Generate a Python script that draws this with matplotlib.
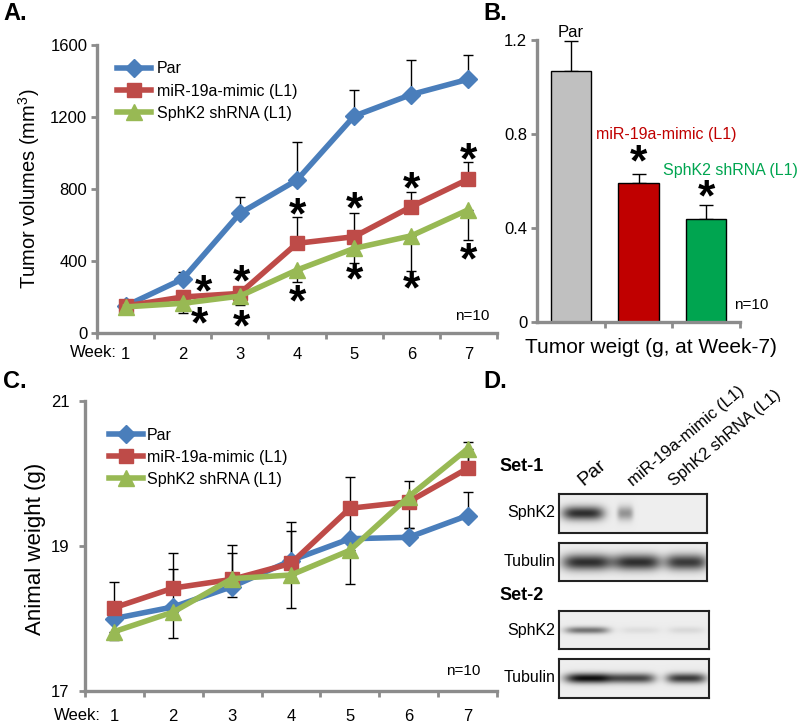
import numpy as np
import matplotlib
matplotlib.use('Agg')
import matplotlib.pyplot as plt
from matplotlib.transforms import offset_copy

plt.rcParams['font.family'] = ['Liberation Sans', 'DejaVu Sans']
plt.rcParams['mathtext.fontset'] = 'custom'
plt.rcParams['mathtext.rm'] = 'Liberation Sans'

# ---- data ----
weeks = [1, 2, 3, 4, 5, 6, 7]
series_names = ['Par', 'miR-19a-mimic (L1)', 'SphK2 shRNA (L1)']

# A: tumor volumes (mm3)
tv_par = [150, 300, 665, 850, 1205, 1325, 1410]
tv_mir = [150, 200, 220, 498, 535, 702, 855]
tv_sph = [145, 165, 205, 350, 470, 540, 685]
tv_par_err = [15, 40, 92, 213, 145, 190, 134]
tv_mir_err = [10, 30, 37, 148, 130, 83, 93]
tv_sph_err = [10, 55, 47, 65, 83, 194, 166]
tv_star_up_x = [2.36, 3.03, 4, 5, 6, 7]
tv_star_up_y = [267, 322, 693, 730, 840, 1000]
tv_star_dn_x = [2.29, 3.03, 4, 5, 6, 7]
tv_star_dn_y = [90, 72, 211, 333, 285, 444]
tv_yticks = [0, 400, 800, 1200, 1600]

# B: tumor weight (g) at week 7
tw_mean = [1.07, 0.59, 0.44]
tw_err = [0.125, 0.04, 0.06]
tw_star_x = [1, 2]
tw_star_y = [0.71, 0.56]
tw_yticks = [0, 0.4, 0.8, 1.2]
tw_yticklabels = ['0', '0.4', '0.8', '1.2']

# C: animal weight (g)
aw_par = [18.00, 18.16, 18.44, 18.80, 19.10, 19.12, 19.42]
aw_mir = [18.15, 18.42, 18.54, 18.76, 19.52, 19.61, 20.07]
aw_sph = [17.82, 18.09, 18.55, 18.60, 18.94, 19.68, 20.34]
aw_par_err = [0.15, 0.52, 0.47, 0.41, 0.35, 0.13, 0.32]
aw_mir_err = [0.36, 0.48, 0.48, 0.57, 0.43, 0.29, 0.37]
aw_sph_err = [0.12, 0.36, 0.25, 0.45, 0.47, 0.43, 0.30]
aw_yticks = [17, 19, 21]

# D: blot band intensities (0 = none, 1 = saturated), lanes Par / miR / SphK2
set1_sphk2 = [0.85, 0.40, 0.0]
set1_tubulin = [0.85, 0.85, 0.80]
set2_sphk2 = [0.55, 0.07, 0.09]
set2_tubulin = [1.0, 0.75, 0.80]

# ---- style ----
W, H = 798, 723
GRAY = '#8c8c8c'
C_PAR, C_MIR, C_SPH = '#4a7ebb', '#be4b48', '#98b954'
BAR_COLORS = ['#c0c0c0', '#c00000', '#00a550']

fig = plt.figure(figsize=(W / 100, H / 100), dpi=100)


def rect(x0, y0, x1, y1):
    return [x0 / W, 1 - y1 / H, (x1 - x0) / W, (y1 - y0) / H]


def ftext(x, y, s, **kw):
    fig.text(x / W, 1 - y / H, s, **kw)


def style(ax):
    ax.spines['top'].set_visible(False)
    ax.spines['right'].set_visible(False)
    for s in ['left', 'bottom']:
        ax.spines[s].set_color(GRAY)
        ax.spines[s].set_linewidth(2.4)
    ax.tick_params(axis='y', direction='out', length=4, width=2, color=GRAY, labelsize=12, pad=3)


def star(ax, x, y, fs=32):
    tr = offset_copy(ax.transData, fig=fig, y=-0.46 * fs, units='points')
    ax.text(x, y, '*', transform=tr, ha='center', va='baseline', fontsize=fs,
            fontweight='bold', zorder=5)


def week_axis(ax, pad):
    ax.set_xlim(0.5, 7.5)
    ax.set_xticks(weeks)
    ax.set_xticks(np.arange(0.5, 8, 1), minor=True)
    ax.tick_params(axis='x', which='major', length=0, labelsize=12, pad=pad)
    ax.tick_params(axis='x', which='minor', direction='out', length=4, width=2, color=GRAY)


def trend(ax, ys, errs, color, marker, ms, up, label):
    e = np.array(errs)
    z = np.zeros_like(e)
    yerr = [z, e] if up else [e, z]
    ax.errorbar(weeks, ys, yerr=yerr, fmt='none', ecolor='black', elinewidth=1,
                capsize=3.5, capthick=1, zorder=1)
    ax.plot(weeks, ys, color=color, lw=4, marker=marker, ms=ms, mec=color,
            mfc=color, label=label, zorder=2, clip_on=False)


# ---- A ----
axA = fig.add_axes(rect(97, 45, 497, 333))
style(axA)
trend(axA, tv_par, tv_par_err, C_PAR, 'D', 9, True, series_names[0])
trend(axA, tv_mir, tv_mir_err, C_MIR, 's', 10, True, series_names[1])
trend(axA, tv_sph, tv_sph_err, C_SPH, '^', 11, False, series_names[2])
for x, y in zip(tv_star_up_x, tv_star_up_y):
    star(axA, x, y)
for x, y in zip(tv_star_dn_x, tv_star_dn_y):
    star(axA, x, y)
axA.set_ylim(0, 1600)
axA.set_yticks(tv_yticks)
week_axis(axA, 10)
axA.set_ylabel('Tumor volumes (mm$^3$)', fontsize=14.5)
axA.yaxis.set_label_coords(-0.137, 0.5)
axA.legend(loc='upper left', bbox_to_anchor=(0.035, 0.965), frameon=False, fontsize=11.5,
           handlelength=2.1, handletextpad=0.35, labelspacing=0.45, borderaxespad=0)
axA.text(0.98, 0.06, 'n=10', transform=axA.transAxes, ha='right', va='center', fontsize=11)
ftext(117, 352, 'Week:', ha='right', va='center', fontsize=12)
ftext(3, 14, 'A.', ha='left', va='center', fontsize=17, fontweight='bold')

# ---- B ----
axB = fig.add_axes(rect(537, 40, 740, 322))
style(axB)
xb = np.arange(len(tw_mean))
axB.errorbar(xb, tw_mean, yerr=[np.zeros(3), tw_err], fmt='none', ecolor='black',
             elinewidth=1, capsize=5, capthick=1, zorder=1)
axB.bar(xb, tw_mean, width=0.6, color=BAR_COLORS, edgecolor='black', linewidth=1, zorder=2)
for x, y in zip(tw_star_x, tw_star_y):
    star(axB, x, y)
axB.set_xlim(-0.5, 2.5)
axB.set_ylim(0, 1.2)
axB.set_yticks(tw_yticks, tw_yticklabels)
axB.set_xticks([])
axB.set_xticks([0.5, 1.5, 2.5], minor=True)
axB.tick_params(axis='x', which='minor', direction='out', length=4, width=2, color=GRAY)
axB.text(0, tw_mean[0] + tw_err[0] + 0.035, series_names[0], ha='center', va='center',
         fontsize=12, clip_on=False)
ftext(596, 134, series_names[1], ha='left', va='center', fontsize=11.5, color=BAR_COLORS[1])
ftext(663, 170, series_names[2], ha='left', va='center', fontsize=11.5, color=BAR_COLORS[2])
axB.text(0.97, 0.06, 'n=10', transform=axB.transAxes, ha='left', va='center', fontsize=11)
ftext(651, 347, 'Tumor weigt (g, at Week-7)', ha='center', va='center', fontsize=15)
ftext(483, 14, 'B.', ha='left', va='center', fontsize=17, fontweight='bold')

# ---- C ----
axC = fig.add_axes(rect(85, 401, 497, 691))
style(axC)
axC.tick_params(axis='y', pad=7)
trend(axC, aw_par, aw_par_err, C_PAR, 'D', 9, True, series_names[0])
trend(axC, aw_mir, aw_mir_err, C_MIR, 's', 10, True, series_names[1])
trend(axC, aw_sph, aw_sph_err, C_SPH, '^', 11, False, series_names[2])
axC.set_ylim(17, 21)
axC.set_yticks(aw_yticks)
week_axis(axC, 13)
axC.set_ylabel('Animal weight (g)', fontsize=16)
axC.yaxis.set_label_coords(-0.095, 0.49)
axC.legend(loc='upper left', bbox_to_anchor=(0.043, 0.93), frameon=False, fontsize=11.5,
           handlelength=2.1, handletextpad=0.25, labelspacing=0.45, borderaxespad=0)
axC.text(0.96, 0.07, 'n=10', transform=axC.transAxes, ha='right', va='center', fontsize=11)
ftext(101, 716, 'Week:', ha='right', va='center', fontsize=12)
ftext(3, 382, 'C.', ha='left', va='center', fontsize=17, fontweight='bold')

# ---- D ----
def strip(x0, y0, x1, y1, intens, centers, halfw, yc, thick):
    ax = fig.add_axes(rect(x0, y0, x1, y1))
    X, Y = np.meshgrid(np.arange(x0, x1, 0.5), np.arange(y0, y1, 0.5))
    dark = np.zeros_like(X)
    for cx, hw, k in zip(centers, halfw, intens):
        dark += k * np.exp(-np.abs((X - cx) / hw) ** 4) * np.exp(-((Y - yc) / thick) ** 2)
    img = 0.93 - 0.88 * np.clip(dark, 0, 1)
    ax.imshow(img, cmap='gray', vmin=0, vmax=1, extent=(x0, x1, y1, y0),
              aspect='auto', interpolation='bilinear')
    ax.set_xticks([])
    ax.set_yticks([])
    for sp in ax.spines.values():
        sp.set_linewidth(1.5)
        sp.set_color('#222222')


strip(559, 494, 707, 533, set1_sphk2, [583, 625, 686], [21, 8, 20], 513, 7)
strip(559, 543, 707, 581, set1_tubulin, [587, 637, 686], [25, 24, 21], 562, 8)
strip(559, 611, 709, 649, set2_sphk2, [587, 640, 686], [22, 20, 18], 630, 3.5)
strip(559, 659, 709, 698, set2_tubulin, [590, 634, 686], [25, 21, 20], 678, 5)

for y, s in [(513, 'SphK2'), (561, 'Tubulin'), (630, 'SphK2'), (678, 'Tubulin')]:
    ftext(555, y, s, ha='right', va='center', fontsize=11.5)
ftext(499, 466, 'Set-1', ha='left', va='center', fontsize=13, fontweight='bold')
ftext(499, 595, 'Set-2', ha='left', va='center', fontsize=13, fontweight='bold')
for (x, y), s, fs in zip([(583, 486), (633, 487), (674, 487)], series_names, [14, 12, 12]):
    ftext(x, y, s, ha='left', va='baseline', rotation=40, rotation_mode='anchor', fontsize=fs)
ftext(483, 382, 'D.', ha='left', va='center', fontsize=17, fontweight='bold')

fig.savefig('out.png', dpi=100)
